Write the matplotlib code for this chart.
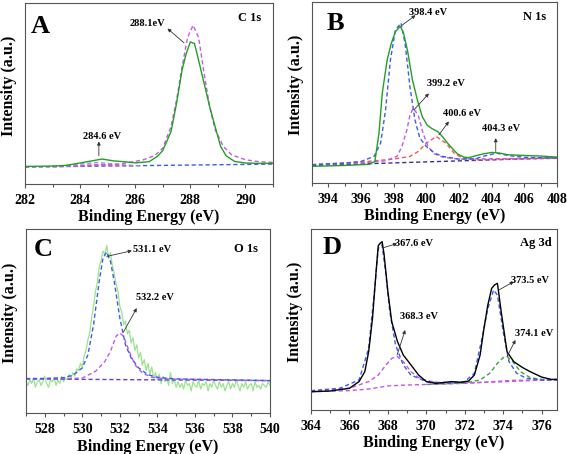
import numpy as np
import matplotlib
matplotlib.use("Agg")
import matplotlib.pyplot as plt
from matplotlib.ticker import MultipleLocator

plt.rcParams['font.family'] = ['Liberation Serif', 'DejaVu Serif']
plt.rcParams['font.weight'] = 'bold'

# ---- panel A : C 1s ----
a_x = [282, 283, 283.5, 284, 284.4, 284.8, 285.2, 285.6, 286, 286.5, 286.8, 287, 287.3, 287.5,
       287.7, 287.85, 288.0, 288.15, 288.3, 288.5, 288.7, 288.9, 289.1, 289.3, 289.6, 290, 290.5, 291]
a_y = [9.7, 9.9, 10.3, 11.6, 12.7, 13.8, 12.8, 12.3, 11.7, 12.3, 15.2, 18.5, 29, 44.6,
       63, 72, 78.5, 77.6, 68.4, 55.6, 42.8, 31.7, 20.7, 15.6, 12.5, 11.6, 11.4, 11.4]
a_fit_x = [282, 284, 285, 285.5, 286, 286.3, 286.7, 287, 287.3, 287.5, 287.7, 287.9, 288.1,
           288.3, 288.5, 288.7, 288.9, 289.2, 289.5, 290, 290.5, 291]
a_fit_y = [9.4, 9.9, 10.6, 11.2, 12.5, 13.4, 15.6, 19.8, 31.7, 46.4, 64.8, 81, 87.7,
           81, 61, 42.8, 30, 20.7, 16.1, 13.4, 12.3, 11.9]
a_red_x = [283, 283.5, 284.2, 284.7, 285.2, 286]
a_red_y = [9.6, 9.8, 10.3, 10.8, 10.3, 9.9]
a_vio_x = [283, 283.8, 284.6, 285.4, 286.2]
a_vio_y = [9.7, 10.6, 11.9, 10.8, 10.0]
a_base_x = [282, 291]
a_base_y = [9.4, 11.0]

# ---- panel B : N 1s ----
b_x = [393, 395, 396.5, 396.85, 397.1, 397.3, 397.6, 397.85, 398.1, 398.4, 398.6, 398.85, 399.15,
       399.45, 399.75, 400.05, 400.35, 400.7, 401.0, 401.3, 401.6, 401.9, 402.3, 402.6, 403, 403.5,
       404, 404.5, 405, 406, 407, 408]
b_y = [9.2, 9.7, 10.3, 11.9, 27.5, 49.5, 67.9, 77, 83.5, 86.6, 83, 73, 57,
       45.9, 36.7, 32, 30, 28.4, 25.5, 22, 19, 16.1, 14.3, 14, 15, 16.1,
       16.9, 16.5, 15.6, 15.2, 14.9, 14.3]
bb_x = [393, 395, 396, 396.8, 397.2, 397.5, 397.8, 398.1, 398.45, 398.7, 399.0, 399.3, 399.6,
        400, 400.5, 401, 402, 403, 403.6, 404.3, 405, 406, 408]
bb_y = [10.1, 11, 11.9, 14.7, 22, 40, 67.9, 84.4, 88.4, 77, 53, 35, 24.8,
        20.2, 16.5, 14.7, 13.2, 13.4, 15, 16.5, 15.2, 14.2, 13.8]
bm_x = [393, 396, 397.5, 398.2, 398.5, 398.8, 399.0, 399.2, 399.5, 399.8, 400.1, 400.5, 401, 402, 404, 408]
bm_y = [10.1, 11, 12.3, 14.7, 20, 29, 37.6, 41.3, 37.6, 27.5, 20.2, 16.1, 14.3, 13.2, 13.4, 13.8]
br_x = [393, 396, 398, 399, 399.5, 400, 400.6, 401.2, 401.7, 402.2, 403, 408]
br_y = [10.1, 11.6, 13.2, 14.7, 17.4, 22, 25.7, 22, 16.5, 13.8, 12.8, 13.6]
b_base_x = [393, 408]
b_base_y = [9.7, 13.9]

# ---- panel C : O 1s (raw data every 0.1 eV from 527 to 540) ----
c_y = [17, 15, 18, 16, 19, 14, 17, 18, 15, 17, 20, 16, 14, 18, 17, 19, 15, 18, 16, 20, 17, 19, 18, 21, 19,
       22, 20, 24, 23, 27, 25, 31, 34, 40, 44,
       52, 58, 66, 71, 79, 83, 88, 86, 91, 84,
       87, 80, 76, 70, 66, 58, 55, 48, 50, 43,
       45, 38, 41, 34, 37, 30, 33, 26, 29, 23,
       27, 21, 25, 19, 22, 18, 21, 16, 20, 17,
       19, 15, 22, 16, 18, 14,
       17, 14, 16, 13, 18, 15, 16, 12, 17, 15, 14, 18, 13, 16, 15, 17, 12, 16, 14, 18, 15, 13, 17, 14, 16,
       12, 15, 17, 13, 16, 14, 18, 15, 12, 16, 14, 17, 13, 15, 16, 12, 17, 14, 15, 13, 16, 15, 14, 17, 15]
c_x = np.linspace(527, 540, len(c_y))
cb_x = [527, 528, 529, 529.5, 530, 530.3, 530.6, 530.9, 531.1, 531.3, 531.5, 531.7, 532.0, 532.3,
        532.6, 533, 533.5, 534, 535, 540]
cb_y = [18.7, 18.8, 19.2, 20.5, 24.5, 31.7, 48, 71.6, 84.2, 87.5, 82.4, 71.6, 51.6, 37,
        30, 24.5, 20.8, 19.4, 18.5, 17.6]
cm_x = [527, 529, 530, 530.7, 531.2, 531.5, 531.8, 532.0, 532.2, 532.5, 532.8, 533.2, 533.7, 534.5, 540]
cm_y = [18.5, 18.6, 19, 22.6, 28, 33.5, 41.7, 43.5, 41.7, 33.5, 26.3, 21.7, 19.4, 18.5, 17.6]
c_base_x = [527, 540]
c_base_y = [18.5, 17.6]

# ---- panel D : Ag 3d ----
d_x = [364, 365, 366, 366.5, 366.8, 367.0, 367.2, 367.4, 367.5, 367.6, 367.7, 367.8, 368.0, 368.2,
       368.5, 368.8, 369.2, 369.6, 370.0, 370.5, 371.0, 371.3, 371.8, 372.2, 372.5, 372.8, 373.0,
       373.2, 373.4, 373.55, 373.7, 373.9, 374.2, 374.55, 375.0, 375.4, 376.0, 376.5, 376.8]
d_y = [10.1, 10.5, 12, 15.7, 21.2, 32.2, 50.6, 78.3, 90.8, 92.1, 93, 86.2, 65.4, 48.8,
       37.8, 30.4, 24.9, 19.3, 15.7, 14.7, 15.3, 15.7, 15.3, 16, 19.3, 30.4, 45.1,
       58, 67.2, 69.1, 70, 54, 32.2, 26.7, 23.5, 21.2, 18.2, 16.9, 16.9]
db_x = [364, 365.5, 366.5, 367.0, 367.3, 367.5, 367.7, 367.9, 368.1, 368.4, 368.8, 369.2, 370, 371,
        372, 372.5, 372.9, 373.2, 373.5, 373.7, 374.0, 374.3, 374.7, 375.2, 376, 376.8]
db_y = [10.7, 12, 16.6, 34, 65.4, 89.3, 91.2, 74.6, 54.3, 35.9, 24.9, 19.3, 15.7, 14.7,
        15.7, 20.3, 39.6, 56, 66.3, 63.5, 43.3, 26.7, 20.3, 17.5, 16.6, 16.6]
dm_x = [364, 366, 367, 367.5, 367.9, 368.2, 368.5, 368.8, 369.2, 369.7, 370.5, 372, 374, 376.8]
dm_y = [10.3, 12, 15.7, 19.3, 24.9, 28.5, 29.5, 26.7, 21.2, 17.1, 15.3, 15.1, 15.6, 16.9]
dg_x = [370, 371, 372, 372.8, 373.3, 373.7, 374.0, 374.2, 374.5, 374.9, 375.4, 376, 376.8]
dg_y = [14.1, 14.5, 14.9, 16.6, 20.3, 25.8, 28.9, 29.5, 26.7, 21.2, 17.9, 16.9, 16.8]
d_base_x = [364, 366, 367, 368, 369, 371, 372.5, 373.5, 374.5, 376.8]
d_base_y = [10.1, 10.7, 11.6, 13.3, 13.8, 14.4, 14.9, 15.7, 16.4, 16.6]

panel_letters = ["A", "B", "C", "D"]
panel_names = ["C 1s", "N 1s", "O 1s", "Ag 3d"]

GREEN = '#22a022'
LGREEN = '#9be38f'
BLUE = '#3a5cf0'
MAG = '#c45ae6'
RED = '#f05a5a'
NAVY = '#3a2f9a'
DGREEN = '#3aa83a'

fig = plt.figure(figsize=(5.67, 4.54), dpi=100)
W, H = 567, 454

def make_ax(l, t, r, b):
    ax = fig.add_axes([l / W, 1 - b / H, (r - l) / W, (b - t) / H])
    for s in ax.spines.values():
        s.set_color('#555555')
        s.set_linewidth(0.8)
    ax.set_yticks([])
    ax.set_ylim(0, 100)
    ax.xaxis.set_major_locator(MultipleLocator(2))
    ax.xaxis.set_minor_locator(MultipleLocator(1))
    ax.tick_params(axis='x', which='major', direction='out', length=3, width=0.8,
                   labelsize=10, pad=4, color='#555555')
    ax.tick_params(axis='x', which='minor', direction='out', length=2, width=0.8, color='#555555')
    for lab in ax.get_xticklabels():
        lab.set_fontweight('bold')
    ax.set_xlabel("Binding Energy (eV)", fontsize=11.5, fontweight='bold')
    ax.xaxis.set_label_coords(0.5, -0.14)
    ax.set_ylabel("Intensity (a.u.)", fontsize=11.5, fontweight='bold')
    ax.yaxis.set_label_coords(-0.033, 0.545)
    return ax

def dash(ax, x, y, c):
    ax.plot(x, y, color=c, lw=1.0, ls=(0, (3, 2)))

def note(ax, txt, txy, tail, head):
    ax.annotate('', xy=head, xytext=tail,
                arrowprops=dict(arrowstyle='-|>', color='#333333', lw=0.6,
                                mutation_scale=5, shrinkA=0, shrinkB=0))
    ax.text(txy[0], txy[1], txt, fontsize=7.5, fontweight='bold', ha='center', va='center')

def decorate(ax, i, lx, ly, nx, ny):
    ax.text(lx, ly, panel_letters[i], transform=ax.transAxes, fontsize=19,
            fontweight='bold', ha='center', va='center')
    ax.text(nx, ny, panel_names[i], transform=ax.transAxes, fontsize=9,
            fontweight='bold', ha='center', va='center')

# A
ax = make_ax(25, 3, 273, 184)
ax.set_xlim(282, 291)
dash(ax, a_base_x, a_base_y, BLUE)
dash(ax, a_red_x, a_red_y, RED)
dash(ax, a_vio_x, a_vio_y, '#9c8cf0')
dash(ax, a_fit_x, a_fit_y, MAG)
ax.plot(a_x, a_y, color=GREEN, lw=1.0)
note(ax, "288.1eV", (286.45, 88.6), (287.77, 78), (287.17, 85.9))
note(ax, "284.6 eV", (284.8, 26.2), (284.68, 15.6), (284.68, 23.5))
decorate(ax, 0, 0.06, 0.87, 0.905, 0.915)

# B
ax = make_ax(312, 2, 557, 183)
ax.set_xlim(393, 408)
dash(ax, b_base_x, b_base_y, NAVY)
dash(ax, br_x, br_y, RED)
dash(ax, bm_x, bm_y, MAG)
dash(ax, bb_x, bb_y, BLUE)
ax.plot(b_x, b_y, color=GREEN, lw=1.0)
note(ax, "398.4 eV", (400.1, 94), (398.52, 87.2), (399.34, 92.7))
note(ax, "399.2 eV", (401.18, 54.7), (399.24, 40.4), (400.16, 49.5))
note(ax, "400.6 eV", (402.2, 38.5), (400.77, 26.6), (401.38, 34))
note(ax, "404.3 eV", (404.55, 29.9), (404.25, 17.4), (404.25, 24.8))
decorate(ax, 1, 0.095, 0.88, 0.91, 0.915)

# C
ax = make_ax(26, 229, 270, 413)
ax.set_xlim(527, 540)
ax.plot(c_x, c_y, color=LGREEN, lw=0.9)
dash(ax, c_base_x, c_base_y, '#6a3ae0')
dash(ax, cm_x, cm_y, MAG)
dash(ax, cb_x, cb_y, BLUE)
note(ax, "531.1 eV", (533.7, 88.8), (531.3, 85.1), (532.64, 88.2))
note(ax, "532.2 eV", (533.88, 62.5), (532.19, 44), (532.9, 57))
decorate(ax, 2, 0.072, 0.89, 0.9, 0.89)

# D
ax = make_ax(311, 229, 557, 410)
ax.set_xlim(364, 376.8)
dash(ax, d_base_x, d_base_y, MAG)
dash(ax, dg_x, dg_y, DGREEN)
dash(ax, dm_x, dm_y, MAG)
dash(ax, db_x, db_y, BLUE)
ax.plot(d_x, d_y, color='black', lw=1.0)
note(ax, "367.6 eV", (369.35, 92), (367.78, 89.7), (368.48, 92))
note(ax, "373.5 eV", (375.39, 71.8), (373.77, 66.3), (374.55, 70.9))
note(ax, "368.3 eV", (369.6, 51.6), (368.48, 30.4), (368.9, 44.2))
note(ax, "374.1 eV", (375.6, 42.4), (374.2, 29.5), (374.64, 38.7))
decorate(ax, 3, 0.085, 0.9, 0.915, 0.925)

fig.savefig("out.png", dpi=100)
